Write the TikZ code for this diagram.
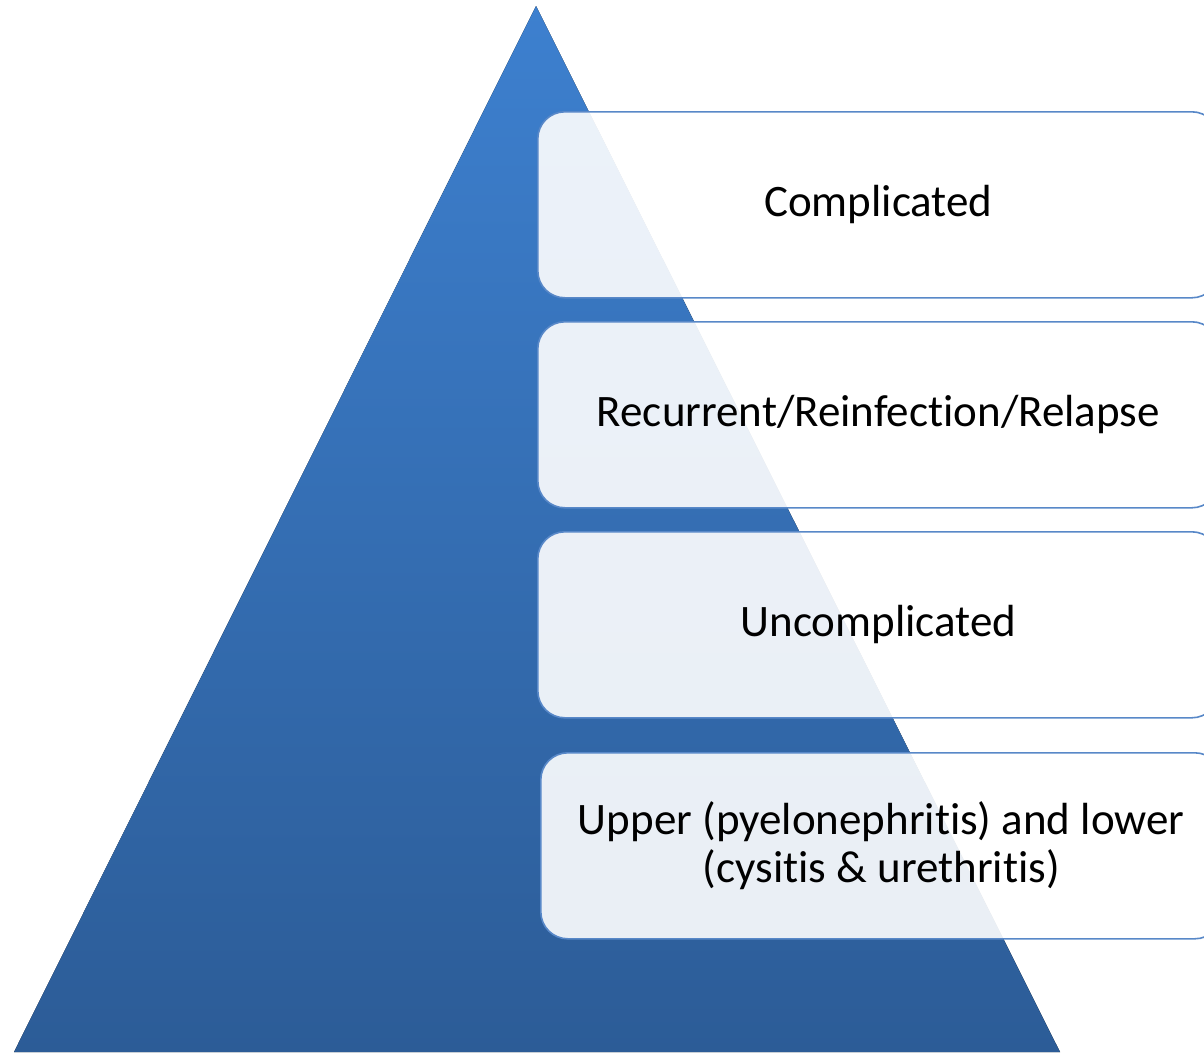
\documentclass[tikz,border=0pt]{standalone}
\usepackage{fontspec}
\setmainfont{Carlito}[Ligatures={NoCommon,NoRequired,NoContextual}]
\definecolor{tritop}{RGB}{61,128,207}
\definecolor{tribot}{RGB}{44,92,151}
\definecolor{boxline}{RGB}{88,136,200}
\tikzset{
  levelbox/.style={draw=boxline, line width=1.6pt, fill=white, fill opacity=0.9, text opacity=1,
    rounded corners=27pt, minimum width=681pt, minimum height=186pt, inner sep=0pt,
    align=center, font=\fontsize{45}{48}\selectfont, anchor=north west}
}
\begin{document}
\begin{tikzpicture}[x=1pt,y=-1pt]
\useasboundingbox (0,0) rectangle (1204,1052);
\clip (0,0) rectangle (1204,1052);
\fill[top color=tritop, bottom color=tribot] (536,6) -- (1060,1052) -- (14,1052) -- cycle;
\node[levelbox] (b1) at (537,111) {Complicated};
\node[levelbox] (b2) at (537,321) {Recurrent/Reinfection/Relapse};
\node[levelbox] (b3) at (537,531) {Uncomplicated};
\node[levelbox] (b4) at (540,752) {Upper (pyelonephritis) and lower\\(cysitis \& urethritis)};
\end{tikzpicture}
\end{document}
